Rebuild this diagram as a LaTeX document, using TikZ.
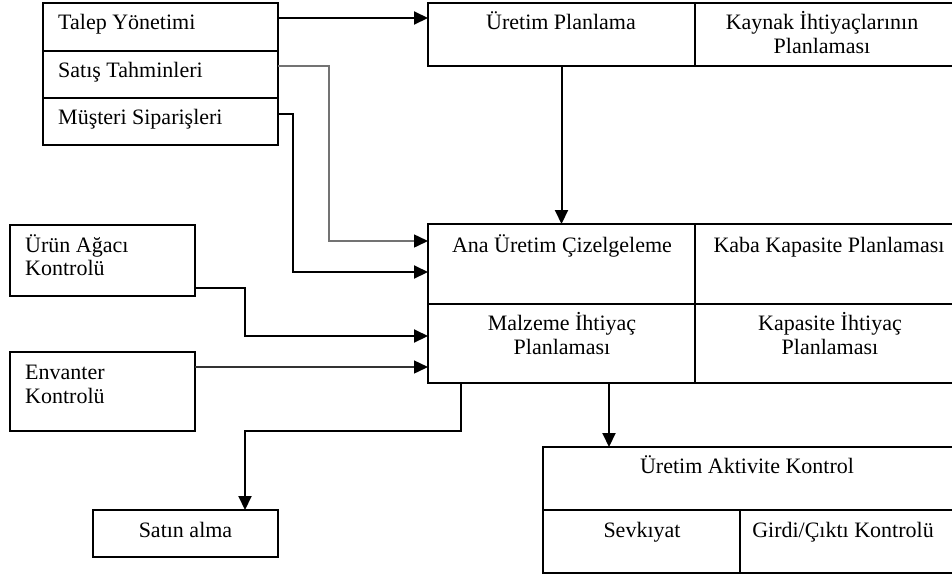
\documentclass[tikz,border=0pt]{standalone}
\usepackage{fontspec}
\setmainfont{Liberation Serif}
\usetikzlibrary{arrows.meta}
\tikzset{
  cell/.style={draw, line width=2pt, inner sep=0pt, outer sep=0pt, anchor=north west},
  txt/.style={inner sep=0pt, anchor=base, font=\fontsize{22}{26}\selectfont},
  ltxt/.style={txt, anchor=base west},
  conn/.style={line width=2pt, -{Triangle[length=14pt,width=13pt]}},
  gconn/.style={line width=1.5pt, draw=black!55, -{Triangle[length=14pt,width=13pt,fill=black,color=black]}},
  thinconn/.style={line width=1.4pt, draw=black!80, -{Triangle[length=14pt,width=13pt,fill=black,color=black]}}
}
\newcommand{\mycell}[5]{\node[cell, minimum width=#4pt-#2pt, minimum height=#5pt-#3pt] (#1) at (#2,#3) {};}
\begin{document}
\begin{tikzpicture}[x=1pt,y=-1pt]
\useasboundingbox (0,0) rectangle (952,574);
\clip (0,0) rectangle (952,574);
\fill[white] (0,0) rectangle (952,574);
% left top group
\mycell{talep}{43}{3}{278}{51}
\mycell{satis}{43}{51}{278}{98}
\mycell{musteri}{43}{98}{278}{145}
\node[ltxt] at (58,29) {Talep Yönetimi};
\node[ltxt] at (58,77) {Satış Tahminleri};
\node[ltxt] at (58,124) {Müşteri Siparişleri};
% top right
\mycell{up}{428}{3}{695}{66}
\mycell{kaynak}{695}{3}{962}{66}
\node[txt] at (561,29) {Üretim Planlama};
\node[txt] at (822,29) {Kaynak İhtiyaçlarının};
\node[txt] at (822,53) {Planlaması};
% middle
\mycell{ana}{428}{224}{695}{304}
\mycell{kaba}{695}{224}{962}{304}
\mycell{malz}{428}{304}{695}{383}
\mycell{kap}{695}{304}{962}{383}
\node[txt] at (562,252) {Ana Üretim Çizelgeleme};
\node[txt] at (829,252) {Kaba Kapasite Planlaması};
\node[txt] at (562,330) {Malzeme İhtiyaç};
\node[txt] at (562,354) {Planlaması};
\node[txt] at (830,330) {Kapasite İhtiyaç};
\node[txt] at (830,354) {Planlaması};
% left boxes
\mycell{urun}{10}{225}{195}{296}
\node[ltxt] at (25,252) {Ürün Ağacı};
\node[ltxt] at (25,275) {Kontrolü};
\mycell{env}{10}{352}{195}{431}
\node[ltxt] at (25,379) {Envanter};
\node[ltxt] at (25,403) {Kontrolü};
\mycell{satin}{93}{510}{278}{557}
\node[txt] at (185.5,537) {Satın alma};
% bottom
\mycell{uak}{543}{447}{962}{510}
\mycell{sevk}{543}{510}{740}{573}
\mycell{girdi}{740}{510}{962}{573}
\node[txt] at (747,473) {Üretim Aktivite Kontrol};
\node[txt] at (642,537) {Sevkıyat};
\node[txt] at (843,537) {Girdi/Çıktı Kontrolü};
% connectors
\draw[conn] ([yshift=9pt]talep.east) -- ([yshift=9pt]talep.east -| up.west);
\draw[gconn] ([yshift=8.5pt]satis.east) -- ++(51,0) |- ([yshift=23pt]ana.west);
\draw[conn] ([yshift=7.5pt]musteri.east) -- ++(15,0) |- ([yshift=-8pt]ana.west);
\draw[conn] (up.south) -- (ana.north);
\draw[conn] ([yshift=-27.5pt]urun.east) -- ++(50,0) |- ([yshift=7.5pt]malz.west);
\draw[thinconn] ([yshift=24.5pt]env.east) -- ([yshift=24.5pt]env.east -| malz.west);
\draw[conn] ([xshift=-100.5pt]malz.south) -- ++(0,48) -| ([xshift=59.5pt]satin.north);
\draw[conn] ([xshift=47.5pt]malz.south) -- ([xshift=47.5pt]malz.south |- uak.north);
\end{tikzpicture}
\end{document}
